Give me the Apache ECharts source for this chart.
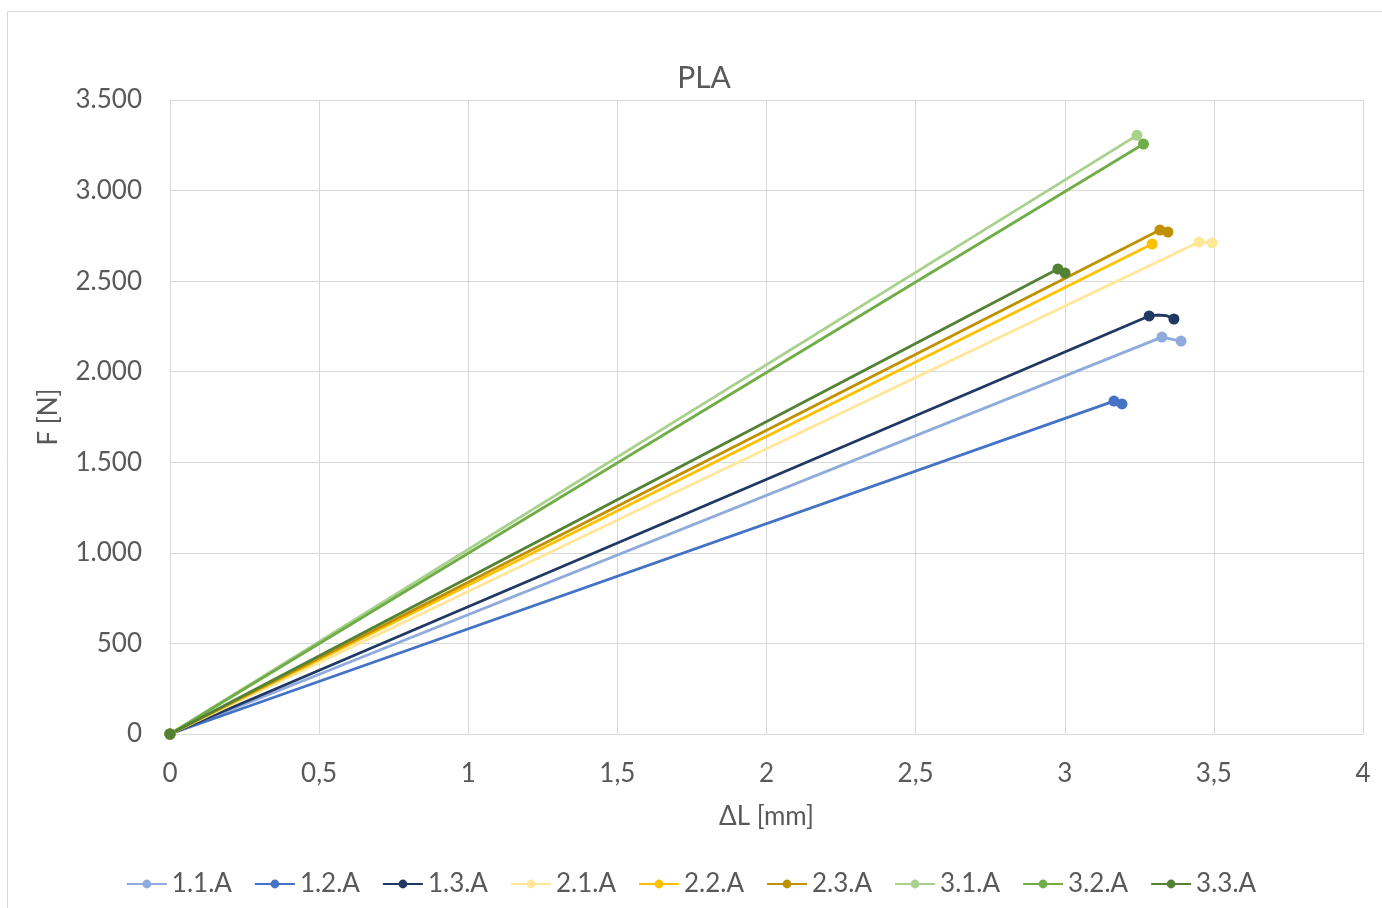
<!DOCTYPE html>
<html>
<head>
<meta charset="utf-8">
<script src="https://cdn.jsdelivr.net/npm/echarts@6/dist/echarts.min.js"></script>
<style>
html,body{margin:0;padding:0;background:#fff;}
#c{width:1382px;height:908px;}
</style>
</head>
<body>
<div id="c"></div>
<script>
const seriesNames = ['1.1.A','1.2.A','1.3.A','2.1.A','2.2.A','2.3.A','3.1.A','3.2.A','3.3.A'];
const colors = ['#8faadc','#4472c4','#203864','#ffe699','#ffc000','#bf9000','#a9d18e','#70ad47','#548235'];
const x11 = [0, 3.326, 3.390];  const y11 = [0, 2191, 2169];
const x12 = [0, 3.165, 3.192];  const y12 = [0, 1838, 1822];
const x13 = [0, 3.283, 3.310, 3.340, 3.366]; const y13 = [0, 2308, 2313, 2310, 2291];
const x21 = [0, 3.450, 3.494];  const y21 = [0, 2716, 2712];
const x22 = [0, 3.293];         const y22 = [0, 2705];
const x23 = [0, 3.319, 3.346];  const y23 = [0, 2782, 2771];
const x31 = [0, 3.242];         const y31 = [0, 3305];
const x32 = [0, 3.264];         const y32 = [0, 3257];
const x33 = [0, 2.977, 3.001];  const y33 = [0, 2567, 2545];
const hiddenPoints = { '1.3.A': [2, 3] };
const xsAll = [x11,x12,x13,x21,x22,x23,x31,x32,x33];
const ysAll = [y11,y12,y13,y21,y22,y23,y31,y32,y33];

const FONT = 'Lato, "Open Sans", sans-serif';
const chart = echarts.init(document.getElementById('c'));
const series = seriesNames.map((n, i) => ({
  name: n,
  type: 'line',
  symbol: 'circle',
  symbolSize: 11,
  lineStyle: { width: 2.8, color: colors[i] },
  itemStyle: { color: colors[i] },
  data: xsAll[i].map((x, k) => {
    const item = { value: [x, ysAll[i][k]] };
    if (hiddenPoints[n] && hiddenPoints[n].includes(k)) item.symbolSize = 0;
    return item;
  })
}));

chart.setOption({
  animation: false,
  backgroundColor: '#fff',
  color: colors,
  graphic: [{
    type: 'rect', shape: { x: 7.5, y: 11.5, width: 1390, height: 910 },
    style: { fill: 'none', stroke: '#d9d9d9', lineWidth: 1 }, silent: true
  }],
  title: {
    text: 'PLA', left: 699, top: 58, textAlign: 'center',
    textStyle: { fontFamily: FONT, fontSize: 30, fontWeight: 'normal', color: '#595959' }
  },
  grid: { left: 170, right: 19, top: 100, bottom: 174 },
  legend: {
    top: 866, left: 'center',
    data: seriesNames,
    itemWidth: 40, itemHeight: 11, itemGap: 22,
    textStyle: { fontFamily: FONT, fontSize: 26, color: '#595959' }
  },
  xAxis: {
    type: 'value', min: 0, max: 4, interval: 0.5,
    name: 'ΔL [mm]', nameLocation: 'middle', nameGap: 70,
    nameTextStyle: { fontFamily: FONT, fontSize: 26, color: '#595959' },
    axisLine: { show: true, lineStyle: { color: '#d9d9d9', width: 1 } },
    axisTick: { show: false },
    splitLine: { show: true, lineStyle: { color: '#d9d9d9', width: 1 } },
    axisLabel: {
      fontFamily: FONT, fontSize: 26, color: '#595959', margin: 27,
      formatter: v => String(v).replace('.', ',')
    }
  },
  yAxis: {
    type: 'value', min: 0, max: 3500, interval: 500,
    name: 'F [N]', nameLocation: 'middle', nameGap: 108, nameRotate: 90,
    nameTextStyle: { fontFamily: FONT, fontSize: 26, color: '#595959' },
    axisLine: { show: false },
    axisTick: { show: false },
    splitLine: { show: true, lineStyle: { color: '#d9d9d9', width: 1 } },
    axisLabel: {
      fontFamily: FONT, fontSize: 26, color: '#595959', margin: 28,
      formatter: v => v >= 1000 ? Math.floor(v/1000) + '.' + String(v % 1000).padStart(3, '0') : String(v)
    }
  },
  series: series
});
</script>
</body>
</html>
